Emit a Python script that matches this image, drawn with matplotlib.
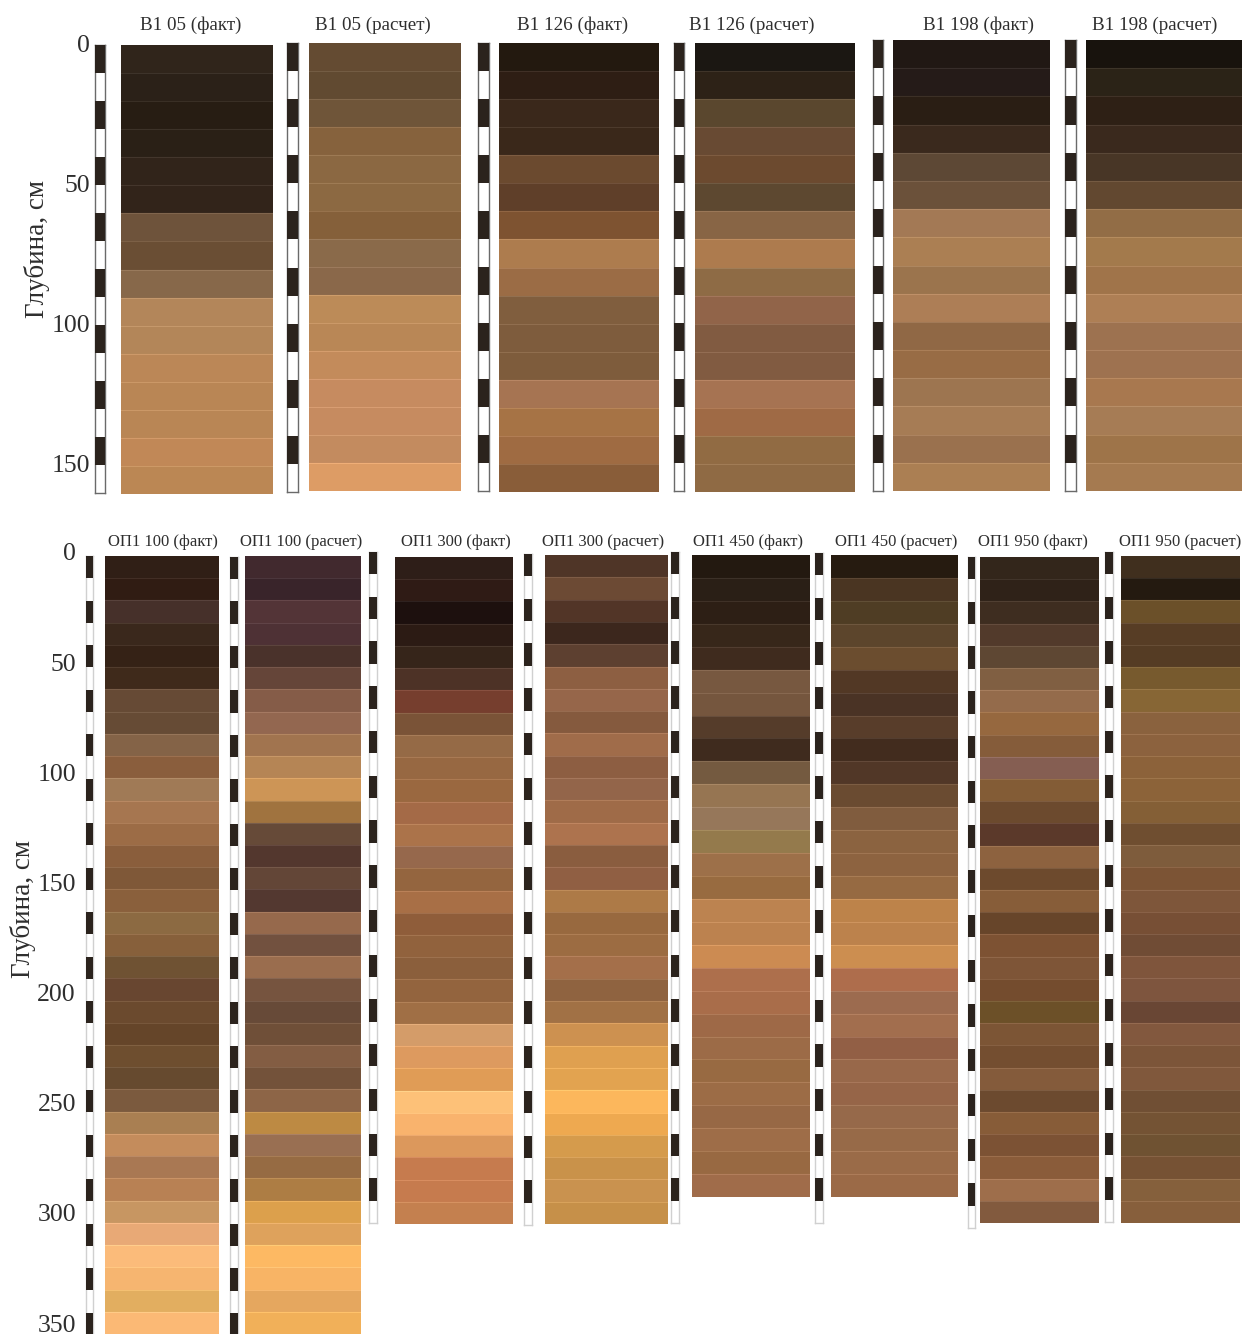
import numpy as np
import matplotlib
matplotlib.use("Agg")
import matplotlib.pyplot as plt

plt.rcParams['font.family'] = ['Liberation Serif', 'DejaVu Serif']

W, H = 1242, 1334
TEXT = '#2e2e2e'
DARK = '#2b231d'

# ---------- colours of the 10 cm layers, top to bottom ----------
v05_fact = ['#30251b', '#2b2118', '#271d13', '#2a2016', '#31241a', '#32241a', '#6e533b', '#6a4e34',
            '#87684a', '#b3865a', '#b38659', '#bb8757', '#b98655', '#b98655', '#c18857', '#bb8754']
v05_calc = ['#644b32', '#614a31', '#6f5539', '#86623d', '#8b6842', '#8c6942', '#85603a', '#8a6a4a',
            '#8a684a', '#bc8b58', '#b98756', '#c38b5b', '#c68b60', '#c68b60', '#c38b5f', '#dd9c65']
v126_fact = ['#23190f', '#2e1e14', '#3a281b', '#3a281a', '#6b4a2f', '#5f3f29', '#7e5331', '#ad7c4e',
             '#9b6c45', '#805e3e', '#7e5c3d', '#7e5c3c', '#a67452', '#a67345', '#9f6b42', '#895d39']
v126_calc = ['#1b1712', '#2d2217', '#5a472e', '#684a33', '#6c4a2f', '#5d4830', '#886545', '#ad7b4e',
             '#8e6b45', '#916449', '#815b41', '#815b41', '#a67352', '#9f6a45', '#916b43', '#8f6a44']
v198_fact = ['#211814', '#251b18', '#2a1e14', '#3a291d', '#5d4835', '#6b513a', '#a37955', '#ab7f53',
             '#9b744d', '#ad7e56', '#906845', '#986c45', '#9d7550', '#a67c55', '#9a714e', '#ab7f53']
v198_calc = ['#18130d', '#2b2317', '#2e2015', '#3a291d', '#483626', '#624830', '#926d46', '#a37a4c',
             '#a0744a', '#ae7f55', '#9d7250', '#9e7250', '#a8784f', '#a67c55', '#9e7449', '#a57a50']

op100_fact = ['#301f16', '#301c13', '#46302a', '#3a281c', '#352216', '#3f2a1b', '#664a35', '#664b35',
              '#846347', '#8a5e3d', '#a07a56', '#a67650', '#9c6c46', '#8a5e3c', '#7f5838', '#8a603c',
              '#8c6a42', '#87603b', '#6f5233', '#684630', '#6b4a2e', '#654529', '#6e4e2f', '#664a2f',
              '#7b5a3e', '#a97f52', '#c48c5c', '#a97853', '#b88154', '#c79662', '#e8a976', '#fbbb7a',
              '#f6b570', '#e2ae60', '#fbb975']
op100_calc = ['#41292e', '#39242a', '#533437', '#4e3135', '#4a322b', '#654539', '#855c48', '#936750',
              '#a1744f', '#b58555', '#cd9556', '#a0733f', '#664a38', '#53372e', '#634637', '#533830',
              '#96694c', '#72513f', '#9a6d4e', '#76543f', '#674a38', '#6f4f38', '#835d43', '#73523a',
              '#8d6547', '#bd8a43', '#996f52', '#966b43', '#ad7d44', '#dca04c', '#dea25c', '#fdb963',
              '#f8b465', '#e5a75f', '#f1b059']
op300_fact = ['#2e1e18', '#2f1b15', '#1d100e', '#2c1b14', '#36251a', '#4d3226', '#763e2e', '#7a5337',
              '#956a46', '#976842', '#9a6840', '#a46a47', '#ab734a', '#96684c', '#94653f', '#a86f46',
              '#8f5d3a', '#91623d', '#8b5f3c', '#93643e', '#a06f45', '#d49c69', '#dd9a5f', '#e09c56',
              '#fdc178', '#f9b36d', '#dc985c', '#c67b4e', '#c67b4e', '#c4804f']
op300_calc = ['#4f3527', '#6c4a34', '#523527', '#3c271d', '#5d4030', '#8d5f42', '#96664a', '#855a3e',
              '#a06c4a', '#8d5e42', '#93654a', '#9f6b48', '#ad734e', '#8a5d3f', '#905f43', '#ad7a47',
              '#98693f', '#9c6c42', '#a46f4a', '#8f6340', '#a17145', '#cd9150', '#dfa050', '#e2a350',
              '#fcb75c', '#eea950', '#d59b4c', '#c9924a', '#c9924f', '#c69049']
op450_fact = ['#231910', '#2a1f16', '#2d1f15', '#37271a', '#3f2b1e', '#775840', '#75563e', '#553c2a',
              '#3f2b1e', '#745a40', '#967552', '#96775a', '#947a4c', '#9d7049', '#986b40', '#bc8350',
              '#bc824f', '#cc8b52', '#ad6f4c', '#a96d4a', '#9e6947', '#9c6b47', '#986a42', '#9c6c46',
              '#976845', '#9e6d48', '#986942', '#a06c4a']
op450_calc = ['#261b10', '#4a3522', '#4f3d24', '#5c452c', '#6b4d2f', '#523825', '#4a3325', '#583d2a',
              '#422c1e', '#513727', '#6a4b31', '#805c3e', '#8b6340', '#8d6340', '#966a42', '#bd834a',
              '#bc824c', '#cc8e50', '#ae6d4c', '#9c6b4f', '#a26e4e', '#925f45', '#98684a', '#966548',
              '#96694a', '#976a48', '#9a6b48', '#9b6a47']
op950_fact = ['#33261b', '#2f2218', '#3e2d20', '#523a2b', '#5e4733', '#805f42', '#946b4b', '#96683f',
              '#855c3a', '#855e52', '#835c36', '#6c4a2e', '#5b392a', '#8d623f', '#6d4a2d', '#875d39',
              '#67452a', '#7d5233', '#7e5537', '#744c2e', '#6c5028', '#7c5535', '#744e30', '#845b3b',
              '#6c4a2f', '#875c38', '#7c5234', '#8a5c3a', '#9e6e4b', '#825a3e']
op950_calc = ['#402f1e', '#241a10', '#6b5029', '#573d25', '#553c24', '#775a2e', '#876635', '#8a623e',
              '#8c623e', '#8c623a', '#8c6339', '#845f36', '#6f4e30', '#7e5c3c', '#7c5435', '#7e563a',
              '#774f35', '#704c35', '#7f553c', '#7e553e', '#694634', '#82583e', '#7c5539', '#80583c',
              '#704f34', '#745334', '#6f5232', '#765234', '#85603c', '#875f3c']

titles_top = ['В1 05 (факт)', 'В1 05 (расчет)', 'В1 126 (факт)', 'В1 126 (расчет)', 'В1 198 (факт)', 'В1 198 (расчет)']
titles_bot = ['ОП1 100 (факт)', 'ОП1 100 (расчет)', 'ОП1 300 (факт)', 'ОП1 300 (расчет)',
              'ОП1 450 (факт)', 'ОП1 450 (расчет)', 'ОП1 950 (факт)', 'ОП1 950 (расчет)']
cols_top = [v05_fact, v05_calc, v126_fact, v126_calc, v198_fact, v198_calc]
cols_bot = [op100_fact, op100_calc, op300_fact, op300_calc, op450_fact, op450_calc, op950_fact, op950_calc]
ticks_top = [0, 50, 100, 150]
ticks_bot = [0, 50, 100, 150, 200, 250, 300, 350]
n_ruler_top = [16] * 6
n_ruler_bot = [35, 35, 30, 30, 30, 30, 30, 30]

# pixel boxes: left, right, top, bottom
box_top = [(121, 273, 45, 494), (309, 461, 43, 491), (499, 659, 43, 492),
           (695, 855, 43, 492), (893, 1050, 40, 491), (1086, 1242, 40, 491)]
box_bot = [(105, 219, 556, 1334), (245, 361, 556, 1334), (395, 513, 557, 1224), (545, 668, 555, 1224),
           (692, 810, 555, 1197), (831, 958, 555, 1197), (980, 1099, 557, 1223), (1121, 1240, 556, 1223)]
rul_top = [(95, 105, 45, 493), (287, 298, 43, 492), (478, 489, 43, 491),
           (674, 684, 43, 491), (873, 883, 40, 491), (1065, 1076, 40, 491)]
rul_bot = [(86, 93, 556, 1335), (230, 238, 557, 1335), (369, 377, 552, 1223), (524, 532, 554, 1225),
           (671, 679, 552, 1223), (815, 823, 553, 1223), (968, 975, 557, 1228), (1105, 1113, 552, 1222)]
title_x_top = [191, 373, 573, 752, 978, 1155]
title_x_bot = [163, 301, 456, 603, 748, 896, 1033, 1180]

fig = plt.figure(figsize=(W / 100, H / 100), dpi=100)


def make_ax(box):
    l, r, t, b = box
    ax = fig.add_axes([l / W, 1 - b / H, (r - l) / W, (b - t) / H])
    ax.set_xlim(0, 1)
    ax.set_xticks([])
    ax.set_yticks([])
    return ax


def soil_column(box, colors):
    ax = make_ax(box)
    depth = np.arange(len(colors)) * 10
    ax.barh(depth, 1, height=10, align='edge', color=colors, linewidth=0)
    ax.set_ylim(depth[-1] + 10, 0)
    # thin pale line on top of each layer
    for d, c in zip(depth[1:], colors[1:]):
        rgb = np.array(matplotlib.colors.to_rgb(c))
        ax.axhline(d, color=np.clip(rgb + 0.07, 0, 1), lw=0.8)
    for s in ax.spines.values():
        s.set_visible(False)


def ruler(box, n, frame):
    ax = make_ax(box)
    depth = np.arange(n) * 10
    # frame goes under the dark stripes, so it only shows along the white ones
    for s in ax.spines.values():
        s.set_color(frame)
        s.set_linewidth(1)
        s.set_zorder(0.5)
    ax.barh(depth[::2], 1, height=10, align='edge', color=DARK, linewidth=0, zorder=2)
    ax.set_ylim(n * 10, 0)


def depth_axis(right, top, bottom, ticks, label_px, label_mid):
    ax = make_ax((right, right + 4, top, bottom))
    ax.set_ylim(ticks[-1], 0)
    ax.set_yticks(ticks)
    ax.tick_params(axis='y', length=0, pad=0, labelsize=18.5, labelcolor=TEXT)
    ax.patch.set_alpha(0)
    for s in ax.spines.values():
        s.set_visible(False)
    ax.set_ylabel('Глубина, см', fontsize=19.5, color=TEXT)
    ax.yaxis.set_label_coords((label_px - right) / 4, (bottom - label_mid) / (bottom - top))


for i in range(6):
    ruler(rul_top[i], n_ruler_top[i], '#6a6a6a')
    soil_column(box_top[i], cols_top[i])
    fig.text(title_x_top[i] / W, 1 - 25 / H, titles_top[i], ha='center', va='center', fontsize=13.7, color=TEXT)

for i in range(8):
    ruler(rul_bot[i], n_ruler_bot[i], '#d0d0d0')
    soil_column(box_bot[i], cols_bot[i])
    fig.text(title_x_bot[i] / W, 1 - 542 / H, titles_bot[i], ha='center', va='center', fontsize=12, color=TEXT)

depth_axis(90, 44, 463, ticks_top, 50, 249)
depth_axis(76, 552, 1323, ticks_bot, 36, 909)

fig.savefig('out.png', dpi=100, facecolor='white')
